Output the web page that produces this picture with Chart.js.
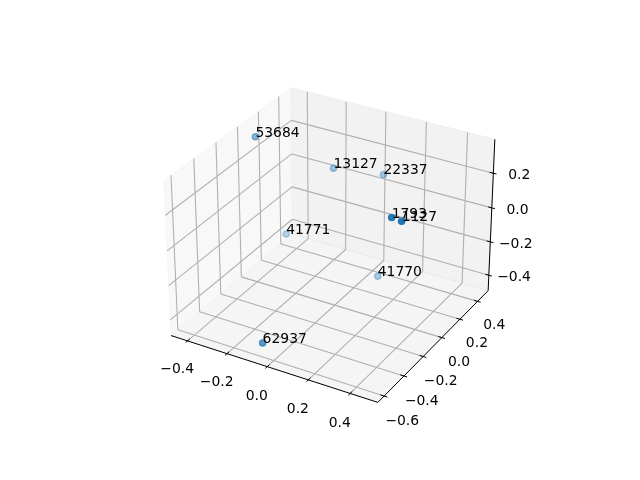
<!DOCTYPE html>
<html>
<head>
<meta charset="utf-8">
<script src="https://cdn.jsdelivr.net/npm/chart.js@4/dist/chart.umd.min.js"></script>
<style>
  html, body { margin: 0; padding: 0; background: #fff; }
  #wrap { width: 640px; height: 480px; }
</style>
</head>
<body>
<div id="wrap"><canvas id="chart" width="640" height="480"></canvas></div>
<script>
// 3D scatter of ids, drawn on a flat scatter chart through a perspective projection

// point ids and their coordinates
const pointLabels = ['53684', '13127', '22337', '1793', '1127', '41771', '41770', '62937'];
const xValues = [-0.418, -0.154, 0.032, 0.403, 0.460, -0.314, 0.105, -0.059];
const yValues = [0.043, 0.299, 0.437, -0.276, -0.300, 0.130, 0.233, -0.591];
const zValues = [0.336, 0.119, 0.077, 0.291, 0.301, -0.241, -0.404, -0.417];

// axis limits and ticks
const xLimits = [-0.485, 0.530];
const yLimits = [-0.662, 0.523];
const zLimits = [-0.4935, 0.392];
const xTicks = [-0.4, -0.2, 0, 0.2, 0.4];
const yTicks = [-0.6, -0.4, -0.2, 0, 0.2, 0.4];
const zTicks = [-0.4, -0.2, 0, 0.2];

// camera (same defaults as a matplotlib 3d axes)
const elev = 30, azim = -60, dist = 10;
const boxAspect = [4, 4, 3];

const aspectNorm = Math.hypot(...boxAspect);
const aspect = boxAspect.map(v => v * 1.8294640721620434 / aspectNorm);
const er = elev * Math.PI / 180, ar = azim * Math.PI / 180;
const W = [Math.cos(er) * Math.cos(ar), Math.cos(er) * Math.sin(ar), Math.sin(er)];
let U = [-W[1], W[0], 0];
const uLen = Math.hypot(...U);
U = U.map(v => v / uLen);
const V = [W[1] * U[2] - W[2] * U[1], W[2] * U[0] - W[0] * U[2], W[0] * U[1] - W[1] * U[0]];
const dot = (a, b) => a[0] * b[0] + a[1] * b[1] + a[2] * b[2];

function project(x, y, z) {
  const d = [
    ((x - xLimits[0]) / (xLimits[1] - xLimits[0]) - 0.5) * aspect[0],
    ((y - yLimits[0]) / (yLimits[1] - yLimits[0]) - 0.5) * aspect[1],
    ((z - zLimits[0]) / (zLimits[1] - zLimits[0]) - 0.5) * aspect[2]
  ];
  const depth = dot(W, d);
  return { x: dot(U, d) / (dist - depth), y: dot(V, d) / (dist - depth), depth: depth };
}

const [x0, x1] = xLimits, [y0, y1] = yLimits, [z0, z1] = zLimits;
const xr = x1 - x0, yr = y1 - y0, zr = z1 - z0;

// list of 3D segments -> one line dataset with gaps
function segments(list) {
  const out = [];
  list.forEach(seg => {
    seg.forEach(p => out.push(project(p[0], p[1], p[2])));
    out.push({ x: null, y: null });
  });
  return out;
}

function pane(corners, color, order) {
  const pts = corners.concat([corners[0]]).map(p => project(p[0], p[1], p[2]));
  return {
    data: pts, showLine: true, fill: 'shape', backgroundColor: color,
    borderColor: color, borderWidth: 1, pointRadius: 0, order: order
  };
}

// grid lines on the three back panes
const gridSegs = [];
xTicks.forEach(t => {
  gridSegs.push([[t, y0, z0], [t, y1, z0]]);
  gridSegs.push([[t, y1, z0], [t, y1, z1]]);
});
yTicks.forEach(t => {
  gridSegs.push([[x0, t, z0], [x1, t, z0]]);
  gridSegs.push([[x0, t, z0], [x0, t, z1]]);
});
zTicks.forEach(t => {
  gridSegs.push([[x0, y0, t], [x0, y1, t]]);
  gridSegs.push([[x0, y1, t], [x1, y1, t]]);
});

// axis lines and tick marks
const tickIn = 0.017, tickOut = 0.015;
const axisSegs = [
  [[x0, y0, z0], [x1, y0, z0]],
  [[x1, y0, z0], [x1, y1, z0]],
  [[x1, y1, z0], [x1, y1, z1]]
];
xTicks.forEach(t => axisSegs.push([[t, y0 + tickIn * yr, z0], [t, y0 - tickOut * yr, z0]]));
yTicks.forEach(t => axisSegs.push([[x1 - tickIn * xr, t, z0], [x1 + tickOut * xr, t, z0]]));
zTicks.forEach(t => axisSegs.push([[x1 - tickIn * xr, y1, t], [x1 + tickOut * xr, y1, t]]));

// tick label anchor points
const fmt = t => (t < -1e-9 ? '\u2212' : '') + Math.abs(t).toFixed(1);
const tickLabels = [];
xTicks.forEach(t => tickLabels.push({ p: project(t, y0 - 0.085 * yr, z0 - 0.13 * zr), text: fmt(t) }));
yTicks.forEach(t => tickLabels.push({ p: project(x1 + 0.085 * xr, t, z0 - 0.13 * zr), text: fmt(t) }));
zTicks.forEach(t => tickLabels.push({ p: project(x1 + 0.105 * xr, y1 + 0.035 * yr, t), text: fmt(t) }));

// points, with depth shading
const projected = xValues.map((x, i) => project(x, yValues[i], zValues[i]));
const depths = projected.map(p => p.depth);
const dMin = Math.min(...depths), dMax = Math.max(...depths);
const pointColors = projected.map(p => {
  const a = 1 - 0.7 * (dMax - p.depth) / (dMax - dMin);
  return 'rgba(31,119,180,' + a.toFixed(3) + ')';
});

const textPlugin = {
  id: 'texts',
  afterDatasetsDraw(chart) {
    const ctx = chart.ctx;
    const sx = chart.scales.x, sy = chart.scales.y;
    ctx.save();
    ctx.fillStyle = '#000';
    ctx.font = '13.9px "DejaVu Sans", sans-serif';
    ctx.textAlign = 'center';
    ctx.textBaseline = 'middle';
    tickLabels.forEach(l => {
      ctx.fillText(l.text, sx.getPixelForValue(l.p.x), sy.getPixelForValue(l.p.y));
    });
    ctx.textAlign = 'left';
    ctx.textBaseline = 'alphabetic';
    projected.forEach((p, i) => {
      ctx.fillText(pointLabels[i], sx.getPixelForValue(p.x), sy.getPixelForValue(p.y));
    });
    ctx.restore();
  }
};

const ctx = document.getElementById('chart').getContext('2d');
new Chart(ctx, {
  type: 'scatter',
  data: {
    datasets: [
      {
        data: projected.map(p => ({ x: p.x, y: p.y })),
        backgroundColor: pointColors,
        borderColor: pointColors,
        borderWidth: 1.4,
        pointRadius: 3.1,
        order: 0
      },
      { data: segments(axisSegs), showLine: true, borderColor: '#000', borderWidth: 1,
        pointRadius: 0, spanGaps: false, order: 1 },
      { data: segments(gridSegs), showLine: true, borderColor: '#b0b0b0', borderWidth: 1.1,
        pointRadius: 0, spanGaps: false, order: 2 },
      pane([[x0, y0, z0], [x0, y1, z0], [x0, y1, z1], [x0, y0, z1]], 'rgba(242,242,242,0.5)', 3),
      pane([[x0, y1, z0], [x1, y1, z0], [x1, y1, z1], [x0, y1, z1]], 'rgba(230,230,230,0.5)', 4),
      pane([[x0, y0, z0], [x1, y0, z0], [x1, y1, z0], [x0, y1, z0]], 'rgba(236,236,236,0.5)', 5)
    ]
  },
  options: {
    responsive: false,
    animation: false,
    devicePixelRatio: 1,
    layout: { padding: 0 },
    plugins: { legend: { display: false }, tooltip: { enabled: false } },
    scales: {
      x: { type: 'linear', display: false, min: -0.157630, max: 0.145687 },
      y: { type: 'linear', display: false, min: -0.114834, max: 0.112654 }
    }
  },
  plugins: [textPlugin]
});
</script>
</body>
</html>
